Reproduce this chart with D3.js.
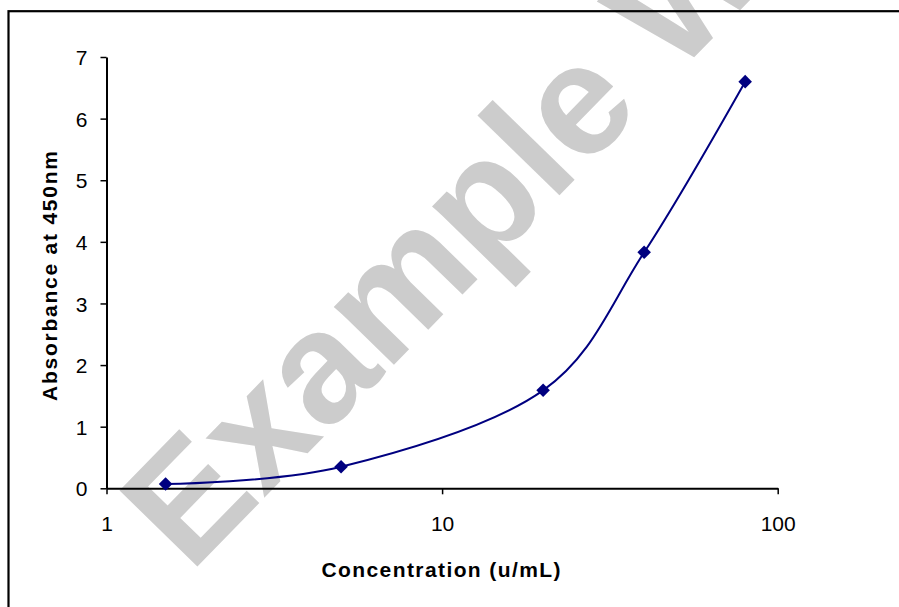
<!DOCTYPE html>
<html>
<head>
<meta charset="utf-8">
<script src="https://cdn.jsdelivr.net/npm/d3@7"></script>
<style>
  html, body { margin: 0; padding: 0; background: #fff; }
  svg { display: block; }
  text { font-family: "Liberation Sans", Arial, sans-serif; }
</style>
</head>
<body>
<svg id="chart" width="899" height="607"></svg>
<script>
// ---- data ----
const concentration = [1.5, 5, 20, 40, 80];
const absorbance = [0.07, 0.35, 1.59, 3.83, 6.6];
const xTicks = [1, 10, 100];
const yTicks = [0, 1, 2, 3, 4, 5, 6, 7];
const xTitle = "Concentration (u/mL)";
const yTitle = "Absorbance at 450nm";
const watermark = "Example W";

const svg = d3.select("#chart");
svg.append("rect").attr("width", 899).attr("height", 607).attr("fill", "#fff");

// watermark (behind everything)
svg.append("text")
  .attr("transform", "translate(190,574) rotate(-45.7)")
  .attr("font-size", 158)
  .attr("font-weight", "bold")
  .attr("fill", "#cccccc")
  .text(watermark);

// outer frame (extends beyond right/bottom edges)
svg.append("rect")
  .attr("x", 8.5).attr("y", 11.2)
  .attr("width", 1200).attr("height", 1200)
  .attr("fill", "none").attr("stroke", "#000").attr("stroke-width", 2.2);

const x = d3.scaleLog().domain([1, 100]).range([106.5, 777.7]);
const y = d3.scaleLinear().domain([0, 7]).range([488.3, 57]);

// x axis
const gx = svg.append("g").attr("transform", `translate(0,${y(0)})`)
  .call(d3.axisBottom(x).tickValues(xTicks).tickFormat(d3.format("d")).tickSize(6).tickSizeOuter(0));
gx.select(".domain").attr("stroke", "#000").attr("stroke-width", 2);
gx.selectAll(".tick line").attr("stroke", "#000").attr("stroke-width", 1.5);
gx.selectAll(".tick text").attr("font-size", 21).attr("fill", "#000")
  .attr("dy", null).attr("y", 43);

// y axis
const gy = svg.append("g").attr("transform", `translate(${x(1)},0)`)
  .call(d3.axisLeft(y).tickValues(yTicks).tickFormat(d3.format("d")).tickSize(6).tickSizeOuter(0));
gy.select(".domain").attr("stroke", "#000").attr("stroke-width", 2);
gy.selectAll(".tick line").attr("stroke", "#000").attr("stroke-width", 1.5);
gy.selectAll(".tick text").attr("font-size", 21).attr("fill", "#000")
  .attr("x", -19).attr("dy", "0.36em");

// titles
svg.append("text")
  .attr("x", 441).attr("y", 577)
  .attr("text-anchor", "middle")
  .attr("font-size", 21).attr("font-weight", "bold")
  .attr("textLength", 239).attr("lengthAdjust", "spacing")
  .text(xTitle);

svg.append("text")
  .attr("transform", "translate(57,276) rotate(-90)")
  .attr("text-anchor", "middle")
  .attr("font-size", 21).attr("font-weight", "bold")
  .attr("textLength", 250).attr("lengthAdjust", "spacing")
  .text(yTitle);

// data line
const pts = concentration.map((c, i) => [c, absorbance[i]]);
const line = d3.line()
  .x(d => x(d[0])).y(d => y(d[1]))
  .curve(d3.curveCardinal.tension(0));
svg.append("path")
  .datum(pts)
  .attr("d", line)
  .attr("fill", "none")
  .attr("stroke", "#000080")
  .attr("stroke-width", 2);

// markers
const sym = d3.symbol().type(d3.symbolSquare).size(92);
svg.selectAll("path.mk").data(pts).enter().append("path")
  .attr("class", "mk")
  .attr("d", sym)
  .attr("transform", d => `translate(${x(d[0])},${y(d[1])}) rotate(45)`)
  .attr("fill", "#000080");
</script>
</body>
</html>
